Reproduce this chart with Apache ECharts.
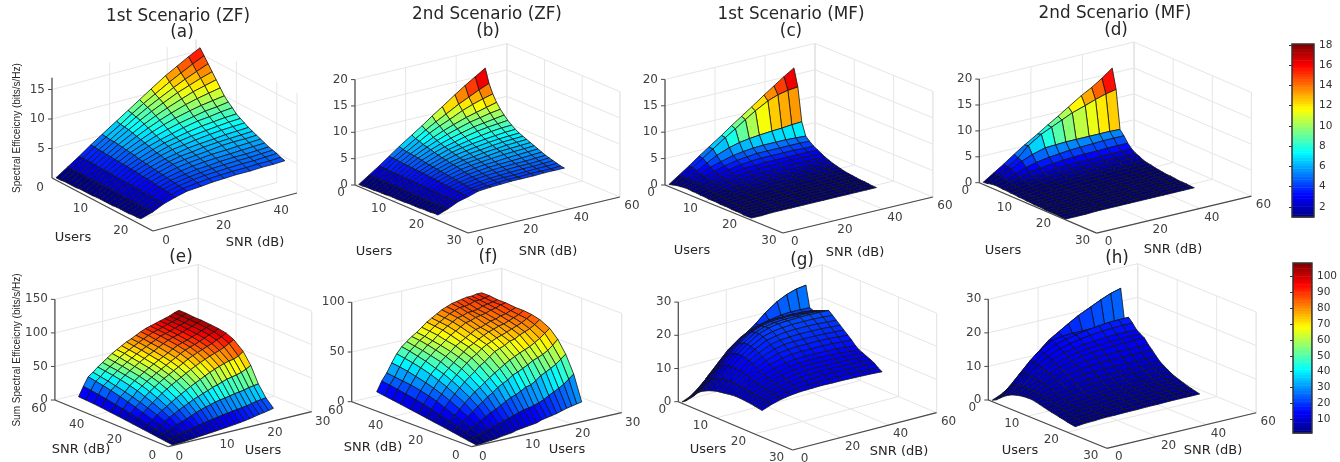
<!DOCTYPE html>
<html>
<head>
<meta charset="utf-8">
<style>html,body{margin:0;padding:0;background:#fff}#chart{width:1340px;height:462px}</style>
<script src="https://cdn.jsdelivr.net/npm/echarts@6/dist/echarts.min.js"></script>
</head>
<body>
<div id="chart"></div>
<script>
const users = [1,2,3,4,5,6,7,8,9,10,11,12,13,14,15,16,17,18,19,20,21,22];
const snr = [0,4,8,12,16,21,25,29,33,38,42,46,50];

// one row per user count, one column per snr value
const se_zf_1 = [
[.4,1.7,3,4.4,5.7,7.3,8.6,9.9,11.2,12.8,13.9,15,16],
[.4,1.7,3,4.4,5.6,7.1,8.4,9.6,10.7,12.1,13.1,14.1,15],
[.5,1.7,3,4.3,5.5,7,8.2,9.3,10.3,11.5,12.4,13.2,14],
[.5,1.7,3,4.3,5.5,6.9,8,9,9.9,11,11.7,12.4,13],
[.5,1.7,3,4.2,5.4,6.7,7.7,8.6,9.4,10.3,11,11.5,12],
[.5,1.7,2.9,4.2,5.3,6.5,7.4,8.2,8.9,9.7,10.2,10.6,11],
[.6,1.7,2.9,4.1,5.2,6.3,7.1,7.8,8.4,9,9.4,9.7,10],
[.6,1.7,2.9,4.1,5.1,6.1,6.8,7.4,7.9,8.4,8.8,9,9.3],
[.6,1.7,2.9,4,5,5.9,6.5,7,7.5,8,8.2,8.5,8.7],
[.6,1.7,2.8,4,4.8,5.7,6.3,6.7,7.1,7.5,7.7,7.9,8],
[.7,1.7,2.8,3.9,4.7,5.5,6.1,6.5,6.8,7.1,7.3,7.5,7.6],
[.7,1.7,2.8,3.9,4.6,5.4,5.9,6.2,6.5,6.8,7,7.1,7.2],
[.7,1.7,2.8,3.8,4.5,5.2,5.6,6,6.2,6.4,6.6,6.7,6.8],
[.7,1.7,2.8,3.7,4.4,5.1,5.5,5.7,6,6.2,6.3,6.4,6.5],
[.7,1.6,2.7,3.7,4.3,5,5.3,5.5,5.7,6,6.1,6.1,6.2],
[.8,1.6,2.7,3.6,4.2,4.8,5.1,5.3,5.5,5.6,5.7,5.8,5.9],
[.8,1.6,2.6,3.5,4.1,4.6,4.9,5.1,5.2,5.3,5.4,5.5,5.6],
[.8,1.6,2.6,3.4,4,4.4,4.7,4.8,5,5.1,5.1,5.2,5.3],
[.8,1.6,2.6,3.4,3.9,4.3,4.5,4.7,4.8,4.9,4.9,5,5.1],
[.9,1.6,2.5,3.3,3.8,4.2,4.4,4.5,4.6,4.7,4.7,4.8,4.9],
[.9,1.6,2.5,3.2,3.7,4,4.2,4.3,4.4,4.4,4.5,4.5,4.6],
[1,1.6,2.5,3.1,3.6,3.8,4,4.1,4.2,4.2,4.3,4.3,4.4]];

const se_zf_2 = [
[.4,1.7,3,4.4,5.8,7.4,8.7,10.1,11.4,13.1,14.4,15.6,16.8],
[.4,1.7,3,4.3,5.5,7,8.2,9.3,10.3,11.6,12.5,13.4,14.2],
[.5,1.7,3,4.3,5.4,6.8,7.9,8.8,9.6,10.7,11.4,12,12.5],
[.5,1.7,2.9,4.2,5.3,6.5,7.4,8.2,8.9,9.7,10.2,10.7,11.2],
[.5,1.7,2.9,4.1,5.2,6.3,7.1,7.8,8.4,9.1,9.5,9.9,10.2],
[.6,1.7,2.9,4.1,5.1,6.1,6.8,7.4,7.9,8.5,8.8,9.1,9.4],
[.6,1.7,2.9,4,5,5.9,6.5,7,7.5,8,8.3,8.5,8.7],
[.6,1.7,2.8,4,4.8,5.7,6.3,6.7,7.1,7.5,7.8,8,8.1],
[.7,1.7,2.8,3.9,4.7,5.5,6.1,6.5,6.8,7.1,7.3,7.5,7.6],
[.7,1.7,2.8,3.9,4.6,5.4,5.9,6.2,6.5,6.8,7,7.1,7.2],
[.7,1.7,2.8,3.8,4.5,5.2,5.6,6,6.2,6.5,6.7,6.8,6.9],
[.7,1.7,2.7,3.7,4.4,5.1,5.5,5.7,6,6.2,6.4,6.5,6.6],
[.7,1.6,2.7,3.7,4.3,5,5.3,5.5,5.7,6,6.1,6.2,6.3],
[.8,1.6,2.7,3.6,4.2,4.8,5.1,5.3,5.5,5.7,5.8,5.9,6],
[.8,1.6,2.6,3.5,4.1,4.6,4.9,5.1,5.2,5.4,5.5,5.6,5.7],
[.8,1.6,2.6,3.4,4,4.5,4.7,4.9,5,5.1,5.2,5.3,5.4],
[.8,1.6,2.6,3.4,3.9,4.3,4.5,4.7,4.8,4.9,4.9,5,5.1],
[.9,1.6,2.5,3.3,3.8,4.2,4.4,4.5,4.6,4.7,4.7,4.8,4.9],
[.9,1.6,2.5,3.2,3.7,4,4.2,4.3,4.4,4.5,4.5,4.6,4.7],
[.9,1.6,2.5,3.2,3.6,3.9,4.1,4.2,4.2,4.3,4.4,4.4,4.5],
[1,1.6,2.5,3.1,3.6,3.8,4,4.1,4.1,4.2,4.2,4.2,4.3],
[1,1.7,2.6,3.1,3.7,3.9,4,4.1,4.1,4.1,4.2,4.2,4.2]];

const se_mf_1 = [
[.4,1.7,3,4.4,5.7,7.3,8.7,10,11.3,13,14.3,15.6,16.8],
[.6,1.7,3,4.3,5.6,7.2,8.4,9.7,10.9,12.2,12.9,13.3,13.5],
[.8,1.6,2.7,3.7,4.7,5.6,6.1,6.4,6.6,6.8,6.9,7.1,7.2],
[.9,1.6,2.4,3.2,3.8,4.4,4.7,4.9,5,5,5,4.9,4.8],
[1,1.5,2.2,2.8,3.3,3.8,4,4.2,4.2,4.2,4.2,4.2,4.1],
[1,1.5,2,2.5,2.9,3.3,3.5,3.6,3.6,3.6,3.6,3.5,3.5],
[.9,1.4,1.8,2.2,2.6,2.9,3,3.1,3.1,3.1,3.1,3.1,3.1],
[.9,1.3,1.6,2,2.3,2.5,2.7,2.7,2.7,2.8,2.8,2.7,2.7],
[.8,1.2,1.5,1.8,2,2.2,2.3,2.3,2.4,2.4,2.4,2.3,2.3],
[.8,1,1.3,1.6,1.7,1.9,2,2,2,2,2,2,2],
[.7,1,1.2,1.4,1.5,1.7,1.7,1.7,1.7,1.7,1.7,1.7,1.7],
[.7,.9,1.1,1.2,1.3,1.5,1.5,1.5,1.5,1.5,1.5,1.5,1.5],
[.7,.8,1,1.1,1.2,1.3,1.3,1.3,1.3,1.3,1.3,1.3,1.3],
[.6,.8,.9,1,1.1,1.1,1.2,1.2,1.2,1.2,1.2,1.2,1.1],
[.6,.7,.8,.9,.9,1,1,1,1,1,1,1,1],
[.6,.6,.7,.8,.9,.9,.9,.9,.9,.9,.9,.9,.9],
[.5,.6,.7,.7,.8,.8,.8,.8,.8,.8,.8,.8,.8],
[.5,.6,.6,.7,.7,.7,.8,.8,.8,.7,.7,.7,.7],
[.5,.5,.6,.6,.6,.7,.7,.7,.7,.7,.7,.7,.7],
[.4,.5,.5,.6,.6,.6,.6,.6,.6,.6,.6,.6,.6],
[.4,.4,.5,.5,.5,.5,.6,.6,.6,.6,.5,.5,.5],
[.4,.4,.5,.5,.5,.5,.5,.5,.5,.5,.5,.5,.5]];

const se_mf_2 = [
[.4,1.7,3,4.4,5.7,7.2,8.5,9.7,11,12.6,13.7,15,16.5],
[.5,1.6,2.8,4,5.9,7.5,8.4,9.3,10.2,11,11.7,12.3,12.7],
[.7,1.7,2.7,3.7,4.5,5.2,5.3,5.4,5.4,5.4,5.4,5.4,5.3],
[.8,1.4,2.1,2.8,3.3,3.7,3.9,4.1,4.2,4.3,4.4,4.4,4.4],
[.8,1.2,1.7,2.2,2.5,2.8,3,3.1,3.2,3.2,3.3,3.3,3.3],
[.7,1,1.4,1.7,2,2.2,2.3,2.4,2.4,2.5,2.5,2.5,2.5],
[.7,.9,1.2,1.4,1.6,1.8,1.9,1.9,2,2,2,2,2],
[.6,.8,1,1.2,1.3,1.5,1.6,1.6,1.6,1.7,1.7,1.7,1.7],
[.6,.7,.9,1,1.1,1.2,1.3,1.3,1.3,1.3,1.3,1.3,1.3],
[.5,.6,.8,.9,.9,1,1.1,1.1,1.1,1.1,1.1,1.1,1.1],
[.5,.5,.6,.7,.8,.8,.9,.9,.9,.9,.9,.9,1],
[.4,.5,.5,.6,.6,.7,.7,.7,.7,.7,.7,.8,.8],
[.4,.4,.5,.5,.5,.6,.6,.6,.6,.6,.6,.6,.7],
[.3,.4,.4,.4,.5,.5,.5,.5,.5,.5,.5,.6,.6],
[.3,.3,.3,.4,.4,.4,.4,.4,.4,.4,.5,.5,.5],
[.3,.3,.3,.3,.3,.3,.4,.4,.4,.4,.4,.4,.5],
[.2,.2,.3,.3,.3,.3,.3,.3,.3,.3,.4,.4,.4],
[.2,.2,.2,.2,.3,.3,.3,.3,.3,.3,.3,.3,.3],
[.2,.2,.2,.2,.2,.2,.3,.3,.3,.3,.3,.3,.3],
[.2,.2,.2,.2,.2,.2,.2,.2,.2,.2,.3,.3,.3],
[.1,.1,.2,.2,.2,.2,.2,.2,.2,.2,.2,.2,.2],
[.1,.1,.1,.2,.2,.2,.2,.2,.2,.2,.2,.2,.2]];

const sum_zf_1 = [
[.4,1.7,3,4.4,5.7,7.3,8.6,9.9,11,12.5,13.5,14.2,14.7],
[1,3.4,6,8.8,11.2,14.2,16.8,19,21,23.6,25.5,27,28.5],
[1.6,5.1,9,13,16.6,21,24.6,27.8,31,34.5,37,39,41],
[2.3,6.8,12,17,21.5,26.5,30,33.5,36.5,39.5,42,44,46],
[2.9,8.5,15,21,26.5,32.5,37,41,44,47,49,50.5,52],
[3.5,10,17.4,24.6,31,38,42.5,46.5,49.5,52,54,55.5,57],
[4.1,11.8,20,28.7,35.7,43,47.5,51.5,54.5,57,59,60.5,62],
[4.8,13.5,23,32,40,47.5,52.5,56,59,61.5,63.5,65.5,67],
[5.4,15,26,35.5,44,52,57,60.5,63.5,66,68,70,71],
[6,16.5,28.5,39,48,56,61,64.5,67.5,70,72,73.5,75],
[6.8,17.5,30.5,41.5,52,60,65,68.5,71.5,74,76,77.5,79],
[7.5,18.8,32.5,44.5,55.5,64,69,72.5,75,77.5,79.5,81,82],
[8.2,20,34.5,47,59,68,73,76.5,79,81.5,83,84.5,85.5],
[9,21,36,50,62.5,71.5,77,80.5,83,85,86.5,88,89],
[9.8,22,37,52,66,75,80.5,84,86.5,88.5,90,91,92],
[10.8,23,38.5,54.5,69,78,83.5,87,89,91,92,93,94],
[12,24,40,57,71.5,81,86,89,91,93,94,95,96],
[13.5,25,41,58.5,74,83.5,89,92,94,95.5,96.5,97.5,98],
[15,26.5,42,60,76,86,91.5,95,96.5,98,99,99.5,100],
[16,28,44,62,77,89,95,98,99.5,100.5,101,101.5,102],
[17.5,29,45,65,80,93,98,101,102.5,103.5,104,104.5,105],
[19,30,46,69,85,97,102,104,105,106,106,107,107]];

const sum_zf_2 = [
[.4,1.7,3,4.4,5.8,7.3,8.6,10,11.2,12.8,14,15.2,16.4],
[.8,3.4,6,8.6,11,14,16.4,18.4,20.2,22.2,23.6,25,26],
[1.5,5,9,12.9,16,20,23.4,25.8,28,30,31,32,33],
[2,6.8,11.6,16.8,21,26,29.4,32.4,35,37.5,39.5,41,42],
[2.5,8.5,14.5,20.5,26,31.5,35.5,39,42,45,47,48.5,50],
[3.6,10.2,17.4,24.6,30.6,36.6,40.8,44.4,47,50.5,52.5,54.5,56],
[4.2,11.9,20.3,28,35,41.3,45.5,49,52.5,55,57,58.5,60],
[4.8,13.6,22.4,32,38.4,45.6,50.4,53.6,56.8,59.5,61.5,63,64],
[6.3,15.3,25.2,35,42.3,49.5,54.9,58,60.5,63,64.5,66,67],
[7,17,28,39,46,54,59,62,65,67,69,70,71],
[7.7,18.7,30.8,41.8,49.5,57,62,66,68,71,73,74,75],
[8.4,20.4,32.4,44.4,52.8,61,66,68.4,71,74,76,77,78],
[9.1,21,35,48,56,65,69,71.5,74,77,79,80,81],
[11,22.4,37.8,50,59,67,71,74,77,80,82,83,84],
[12,24,39,52.5,61.5,69,73.5,76.5,78,81,83,85,86],
[13,26,42,55,64,72,75,78,80,83,85,87,88],
[14,29,46,58,66,73,77,80,82,84,85,87,89],
[15.5,31.5,48.5,60,68,76,79,81,83,85,86,88,90],
[17,34,51,62,71,78,81,83,85,87,88,90,91],
[18,37,54,65,74,80,83,85,86,88,89,90,91],
[19,41,58,69,78,83,86,87,88,90,90,91,92],
[20,45,62,74,82,87,89,90,90,91,91,92,92]];

const sum_mf_1 = [
[.4,1.7,3,4.4,5.7,7.3,8.7,9.9,11.2,12.8,14,15.2,16.8],
[1.2,3.4,6,8.7,11.2,14.4,16.8,19,21.5,24,25.4,26.3,26.7],
[2.4,4.8,8.1,11.1,14.1,16.8,18.3,19.2,19.8,20.4,20.6,20.5,20.4],
[3.6,6.2,9.5,12.6,15.2,17.8,19,19.8,20.2,20.4,20.4,20.2,20],
[5,7.6,10.8,14,16.5,19,20.2,21,21.3,21.3,21.2,21,20.5],
[6,8.8,12,15,17.5,20,21,21.6,21.8,21.8,21.6,21.3,21],
[6.6,9.6,12.8,15.6,18,20.3,21.3,21.8,22,22,22,21.8,21.5],
[7.2,10.2,13.2,16,18.2,20.4,21.4,21.9,22.1,22.2,22.2,22.1,22],
[7.6,10.4,13.4,16,18,20,20.8,21.2,21.4,21.4,21.4,21.2,21],
[8,10.6,13.4,15.8,17.6,19.4,20,20.4,20.5,20.5,20.4,20.2,20],
[8.2,10.7,13.2,15.4,17,18.6,19.2,19.4,19.5,19.5,19.4,19.2,19],
[8.4,10.7,13,15,16.4,17.8,18.3,18.5,18.5,18.5,18.4,18.2,18],
[8.6,10.6,12.7,14.4,15.7,16.9,17.3,17.5,17.5,17.5,17.4,17.2,17],
[8.8,10.5,12.3,13.8,15,15.9,16.4,16.5,16.5,16.5,16.4,16.2,16],
[8.9,10.3,11.9,13.2,14.2,15,15.4,15.5,15.5,15.4,15.3,15,14.8],
[8.9,10.2,11.6,12.7,13.6,14.4,14.7,14.8,14.8,14.7,14.5,14.3,14],
[8.8,10,11.3,12.3,13.1,13.8,14.1,14.2,14.1,14,13.9,13.7,13.5],
[8.7,9.9,11,11.9,12.6,13.2,13.5,13.5,13.5,13.4,13.3,13.1,13],
[8.6,9.7,10.7,11.5,12.1,12.6,12.8,12.9,12.9,12.8,12.7,12.6,12.5],
[8.4,9.5,10.4,11.1,11.6,12,12.2,12.3,12.3,12.2,12.1,12,11.9],
[8.2,9.3,10.1,10.7,11.1,11.4,11.5,11.6,11.5,11.5,11.4,11.2,11],
[8,9.1,9.9,10.4,10.7,10.8,10.9,10.8,10.8,10.7,10.6,10.5,10.3]];

const sum_mf_2 = [
[.4,1.7,3,4.4,5.7,7.2,8.5,9.7,11,12.6,13.7,15,16.5],
[1,3.2,5.5,8,11.7,15,16.8,18.6,20.3,22,23.4,24.6,25.4],
[2,5,8,11,13.5,15.5,16,16.2,16.2,16.2,16.2,16.1,16],
[3,5.5,8.5,11,13,14.8,15.6,16.2,16.8,17.3,17.6,17.7,17.7],
[3.8,6,8.6,10.8,12.6,14,14.8,15.4,15.8,16.2,16.4,16.5,16.5],
[4.4,6.2,8.4,10.3,11.9,13.2,13.8,14.3,14.6,14.9,15,15,15],
[4.8,6.4,8.2,9.9,11.3,12.5,13.1,13.5,13.8,14,14.1,14.2,14.2],
[5.1,6.4,8,9.5,10.7,11.8,12.4,12.8,13,13.3,13.4,13.5,13.5],
[5.3,6.3,7.8,9,10.1,11,11.5,11.8,11.9,12,12,12,12],
[5.4,6.2,7.5,8.5,9.4,10.1,10.5,10.7,10.8,10.8,10.8,10.8,10.8],
[5.4,6,7,7.9,8.6,9.1,9.4,9.5,9.5,9.5,9.5,9.5,9.5],
[5.2,5.7,6.5,7.2,7.7,8.1,8.2,8.3,8.3,8.3,8.3,8.3,8.3],
[4.9,5.4,6,6.6,7,7.3,7.4,7.5,7.5,7.5,7.5,7.5,7.5],
[4.6,5,5.5,6,6.3,6.6,6.7,6.8,6.8,6.8,6.8,6.8,6.8],
[4.3,4.7,5.1,5.4,5.7,5.9,6,6.1,6.1,6.1,6.1,6.1,6.1],
[4,4.4,4.7,5,5.2,5.4,5.5,5.6,5.6,5.6,5.6,5.6,5.6],
[3.8,4.1,4.4,4.6,4.8,5,5.1,5.2,5.2,5.2,5.2,5.2,5.2],
[3.5,3.8,4.1,4.3,4.4,4.6,4.7,4.7,4.8,4.8,4.8,4.8,4.8],
[3.3,3.5,3.8,3.9,4.1,4.2,4.3,4.3,4.4,4.4,4.4,4.4,4.4],
[3,3.3,3.5,3.6,3.8,3.9,4,4,4.1,4.1,4.1,4.1,4.1],
[2.8,3.1,3.2,3.4,3.5,3.6,3.6,3.7,3.7,3.8,3.8,3.8,3.8],
[2.6,2.9,3,3.2,3.2,3.3,3.3,3.4,3.4,3.5,3.5,3.5,3.5]];

const bar1_ticks = [2,4,6,8,10,12,14,16,18];
const bar2_ticks = [10,20,30,40,50,60,70,80,90,100];

// o = screen point of users 0 / snr 0 / z 0, eu es ez = screen vector per unit
// fu fs = far side of the box, closest to the back corner
const panels = [
  { z: se_zf_1, clim: [1, 18.1], o: [52,178], eu: [4.04,2.12], es: [2.88,-.76], ez: -5.9, umax: 25, smax: 50, zmax: 17,
    uTicks: [0,10,20], sTicks: [0,20,40], zTicks: [5,10,15], fu: 0, fs: 50, uOff: [-12,10], sOff: [13,10] },
  { z: se_zf_2, clim: [1, 18.1], o: [355,185], eu: [3.77,1.6], es: [2.53,-.6], ez: -5.27, umax: 30, smax: 60, zmax: 20,
    uTicks: [0,10,20,30], sTicks: [0,20,40,60], zTicks: [0,5,10,15,20], fu: 0, fs: 60, uOff: [-14,8], sOff: [12,9] },
  { z: se_mf_1, clim: [1, 18.1], o: [665,185], eu: [3.93,1.6], es: [2.5,-.6], ez: -5.28, umax: 30, smax: 60, zmax: 20,
    uTicks: [0,10,20,30], sTicks: [0,20,40,60], zTicks: [0,5,10,15,20], fu: 0, fs: 60, uOff: [-14,8], sOff: [12,9] },
  { z: se_mf_2, clim: [1, 18.1], o: [979.3,182.7], eu: [3.91,1.68], es: [2.58,-.617], ez: -5.18, umax: 30, smax: 60, zmax: 20,
    uTicks: [0,10,20,30], sTicks: [0,20,40,60], zTicks: [0,5,10,15,20], fu: 0, fs: 60, uOff: [-14,8], sOff: [12,9] },
  { z: sum_zf_1, clim: [1.4, 108.4], o: [168.3,446.7], eu: [4.78,-1.167], es: [-1.89,-.778], ez: -.671, umax: 30, smax: 60, zmax: 150,
    uTicks: [0,10,20,30], sTicks: [0,20,40,60], zTicks: [0,50,100,150], fu: 30, fs: 60, uOff: [11,10], sOff: [-16,9] },
  { z: sum_zf_2, clim: [1.4, 108.4], o: [471.7,446.7], eu: [5,-1.133], es: [-2,-.75], ez: -.994, umax: 30, smax: 60, zmax: 100,
    uTicks: [0,10,20,30], sTicks: [0,20,40,60], zTicks: [0,50,100], fu: 30, fs: 60, uOff: [11,10], sOff: [-16,9] },
  { z: sum_mf_1, clim: [1.4, 108.4], o: [678.3,401.7], eu: [3.81,1.61], es: [2.4,-.622], ez: -3.32, umax: 30, smax: 60, zmax: 30,
    uTicks: [0,10,20,30], sTicks: [0,20,40,60], zTicks: [0,10,20,30], fu: 0, fs: 60, uOff: [-16,8], sOff: [12,9] },
  { z: sum_mf_2, clim: [1.4, 108.4], o: [988.3,400], eu: [3.95,1.61], es: [2.49,-.593], ez: -3.357, umax: 30, smax: 60, zmax: 30,
    uTicks: [0,10,20,30], sTicks: [0,20,40,60], zTicks: [0,10,20,30], fu: 0, fs: 60, uOff: [-16,8], sOff: [12,9] },
];

const texts = [
  ["1st Scenario (ZF)", 178, 17, 16.8], ["(a)", 182, 33, 16.8],
  ["2nd Scenario (ZF)", 487, 15, 16.8], ["(b)", 488, 32, 16.8],
  ["1st Scenario (MF)", 791, 15, 16.8], ["(c)", 791, 32, 16.8],
  ["2nd Scenario (MF)", 1115, 14, 16.8], ["(d)", 1116, 31, 16.8],
  ["(e)", 181, 258, 16.8], ["(f)", 488, 258, 16.8], ["(g)", 802, 261, 16.8], ["(h)", 1117, 259, 16.8],
  ["Users", 73, 238, 13], ["SNR (dB)", 255, 243, 13],
  ["Users", 374, 252, 13], ["SNR (dB)", 548, 252, 13],
  ["Users", 692, 251, 13], ["SNR (dB)", 855, 253, 13],
  ["Users", 1003, 251, 13], ["SNR (dB)", 1173, 250, 13],
  ["SNR (dB)", 81, 450, 13], ["Users", 263, 451, 13],
  ["SNR (dB)", 373, 448, 13], ["Users", 567, 450, 13],
  ["Users", 708, 450, 13], ["SNR (dB)", 899, 452, 13],
  ["Users", 1020, 451, 13], ["SNR (dB)", 1213, 451, 13],
];

function jet(v, clim) {
  const t = Math.min(1, Math.max(0, (v - clim[0]) / (clim[1] - clim[0])));
  const ch = (k) => Math.round(255 * Math.min(1, Math.max(0, 1.5 - Math.abs(4 * t - k))));
  return `rgb(${ch(3)},${ch(2)},${ch(1)})`;
}

function project(p, u, s, z) {
  return [p.o[0] + p.eu[0] * u + p.es[0] * s, p.o[1] + p.eu[1] * u + p.es[1] * s + p.ez * z];
}

const series = [];

panels.forEach((p) => {
  // walls and floor grid
  const grid_lines = [];
  p.zTicks.forEach((z) => {
    if (z === 0) return;
    grid_lines.push([[p.fu, 0, z], [p.fu, p.smax, z]]);
    grid_lines.push([[0, p.fs, z], [p.umax, p.fs, z]]);
  });
  p.sTicks.forEach((s) => {
    grid_lines.push([[0, s, 0], [p.umax, s, 0]]);
    grid_lines.push([[p.fu, s, 0], [p.fu, s, p.zmax]]);
  });
  p.uTicks.forEach((u) => {
    grid_lines.push([[u, 0, 0], [u, p.smax, 0]]);
    grid_lines.push([[u, p.fs, 0], [u, p.fs, p.zmax]]);
  });
  grid_lines.push([[p.fu, 0, 0], [p.fu, 0, p.zmax]]);
  grid_lines.push([[0, p.fs, 0], [0, p.fs, p.zmax]]);
  grid_lines.push([[p.umax, p.fs, 0], [p.umax, p.fs, p.zmax]]);
  grid_lines.push([[p.fu, p.smax, 0], [p.fu, p.smax, p.zmax]]);

  series.push({
    type: "custom", coordinateSystem: "cartesian2d", silent: true, clip: false, z: 1,
    data: grid_lines.map((l, i) => [i, i]),
    renderItem: (params, api) => {
      const l = grid_lines[params.dataIndex];
      const a = api.coord(project(p, l[0][0], l[0][1], l[0][2]));
      const b = api.coord(project(p, l[1][0], l[1][1], l[1][2]));
      return { type: "line", shape: { x1: a[0], y1: a[1], x2: b[0], y2: b[1] }, style: { stroke: "#e6e6e6", lineWidth: 1 } };
    },
  });

  // surface cells, back to front
  const cells = [];
  const u_idx = users.slice(0, -1).map((_, i) => i);
  const s_idx = snr.slice(0, -1).map((_, i) => i).reverse();
  if (p.fu !== 0) u_idx.reverse();
  u_idx.forEach((i) => s_idx.forEach((j) => cells.push([i, j])));

  series.push({
    type: "custom", coordinateSystem: "cartesian2d", silent: true, clip: false, z: 2,
    data: cells,
    renderItem: (params, api) => {
      const i = api.value(0), j = api.value(1);
      const pts = [[i, j], [i + 1, j], [i + 1, j + 1], [i, j + 1]].map((c) =>
        api.coord(project(p, users[c[0]], snr[c[1]], p.z[c[0]][c[1]])));
      return {
        type: "polygon", shape: { points: pts },
        style: { fill: jet((p.z[i][j] + p.z[i][j + 1]) / 2, p.clim), stroke: "#141414", lineWidth: 0.8 },
      };
    },
  });

  // axis lines, ticks and tick labels on top
  const near_u = p.fu === 0 ? p.umax : 0;
  const z_corner = p.fu === 0 ? [0, 0] : [0, p.smax];
  const axis_lines = [
    [[p.fu, 0, 0], [near_u, 0, 0]],
    [[near_u, 0, 0], [near_u, p.smax, 0]],
    [[z_corner[0], z_corner[1], 0], [z_corner[0], z_corner[1], p.zmax]],
  ];
  const labels = [];
  p.uTicks.forEach((u) => labels.push({ at: [u, 0, 0], off: p.uOff, text: String(u), align: "center" }));
  p.sTicks.forEach((s) => labels.push({ at: [near_u, s, 0], off: p.sOff, text: String(s), align: "center" }));
  p.zTicks.forEach((z) => labels.push({ at: [z_corner[0], z_corner[1], z], off: [-7, 0], text: String(z), align: "right", tick: true }));

  series.push({
    type: "custom", coordinateSystem: "cartesian2d", silent: true, clip: false, z: 3,
    data: axis_lines.map((l, i) => [i, i]),
    renderItem: (params, api) => {
      const l = axis_lines[params.dataIndex];
      const a = api.coord(project(p, l[0][0], l[0][1], l[0][2]));
      const b = api.coord(project(p, l[1][0], l[1][1], l[1][2]));
      return { type: "line", shape: { x1: a[0], y1: a[1], x2: b[0], y2: b[1] }, style: { stroke: "#4a4a4a", lineWidth: 1.2 } };
    },
  });
  series.push({
    type: "custom", coordinateSystem: "cartesian2d", silent: true, clip: false, z: 3,
    data: labels.map((l, i) => [i, i]),
    renderItem: (params, api) => {
      const l = labels[params.dataIndex];
      const a = api.coord(project(p, l.at[0], l.at[1], l.at[2]));
      const children = [{
        type: "text",
        style: {
          x: a[0] + l.off[0], y: a[1] + l.off[1], text: l.text, fill: "#404040",
          font: "12px 'DejaVu Sans'", textAlign: l.align, textVerticalAlign: "middle",
        },
      }];
      if (l.tick) {
        children.push({ type: "line", shape: { x1: a[0] - 4, y1: a[1], x2: a[0], y2: a[1] }, style: { stroke: "#4a4a4a", lineWidth: 1 } });
      }
      return { type: "group", children };
    },
  });
});

function colorbarSeries(axis_index, clim) {
  const steps = 64;
  const levels = [];
  for (let i = 0; i < steps; i++) levels.push([i, i]);
  return [{
    type: "custom", coordinateSystem: "cartesian2d", xAxisIndex: axis_index, yAxisIndex: axis_index,
    silent: true, clip: false, z: 2, data: levels,
    renderItem: (params, api) => {
      const i = params.dataIndex;
      const lo = clim[0] + (clim[1] - clim[0]) * i / steps;
      const hi = clim[0] + (clim[1] - clim[0]) * (i + 1) / steps;
      const a = api.coord([0, hi]);
      const b = api.coord([1, lo]);
      return {
        type: "rect", shape: { x: a[0], y: a[1], width: b[0] - a[0], height: b[1] - a[1] + 0.5 },
        style: { fill: jet((lo + hi) / 2, clim) },
      };
    },
  }, {
    type: "custom", coordinateSystem: "cartesian2d", xAxisIndex: axis_index, yAxisIndex: axis_index,
    silent: true, clip: false, z: 4, data: [[0, 0]],
    renderItem: (params, api) => {
      const a = api.coord([0, clim[1]]);
      const b = api.coord([1, clim[0]]);
      return {
        type: "rect", shape: { x: a[0], y: a[1], width: b[0] - a[0], height: b[1] - a[1] },
        style: { fill: "none", stroke: "#333", lineWidth: 1.5 },
      };
    },
  }];
}

const bar_axis = (clim, ticks) => ({
  type: "value", gridIndex: 0, position: "right", min: clim[0], max: clim[1],
  splitLine: { show: false }, axisLine: { show: false },
  axisTick: { show: true, inside: true, length: 3, customValues: ticks, lineStyle: { color: "#333" } },
  axisLabel: { show: true, customValues: ticks, margin: 5, color: "#333", fontSize: 10.5, fontFamily: "DejaVu Sans" },
  z: 5,
});

const chart = echarts.init(document.getElementById("chart"));
chart.setOption({
  animation: false,
  backgroundColor: "#fff",
  grid: [
    { left: 0, top: 0, width: 1340, height: 462 },
    { left: 1292, top: 44, width: 22, height: 173 },
    { left: 1293, top: 263, width: 24, height: 170 },
  ],
  xAxis: [
    { type: "value", gridIndex: 0, min: 0, max: 1340, show: false },
    { type: "value", gridIndex: 1, min: 0, max: 1, show: false },
    { type: "value", gridIndex: 2, min: 0, max: 1, show: false },
  ],
  yAxis: [
    { type: "value", gridIndex: 0, min: 0, max: 462, inverse: true, show: false },
    Object.assign(bar_axis([1, 18.1], bar1_ticks), { gridIndex: 1 }),
    Object.assign(bar_axis([1.4, 108.4], bar2_ticks), { gridIndex: 2 }),
  ],
  series: series.concat(colorbarSeries(1, [1, 18.1]), colorbarSeries(2, [1.4, 108.4])),
  graphic: texts.map((t) => ({
    type: "text", x: t[1], y: t[2], silent: true, z: 10,
    style: { text: t[0], fill: "#262626", font: `${t[3]}px 'DejaVu Sans'`, textAlign: "center", textVerticalAlign: "middle" },
  })).concat([
    { type: "text", x: 17, y: 128, rotation: Math.PI / 2, silent: true, z: 10,
      style: { text: "Spectral Efficeicny (bits/s/Hz)", fill: "#262626", font: "10px 'Liberation Sans'", textAlign: "center", textVerticalAlign: "middle" } },
    { type: "text", x: 17, y: 350, rotation: Math.PI / 2, silent: true, z: 10,
      style: { text: "Sum Spectral Efficeicny (bits/s/Hz)", fill: "#262626", font: "10px 'Liberation Sans'", textAlign: "center", textVerticalAlign: "middle" } },
  ]),
});
</script>
</body>
</html>
